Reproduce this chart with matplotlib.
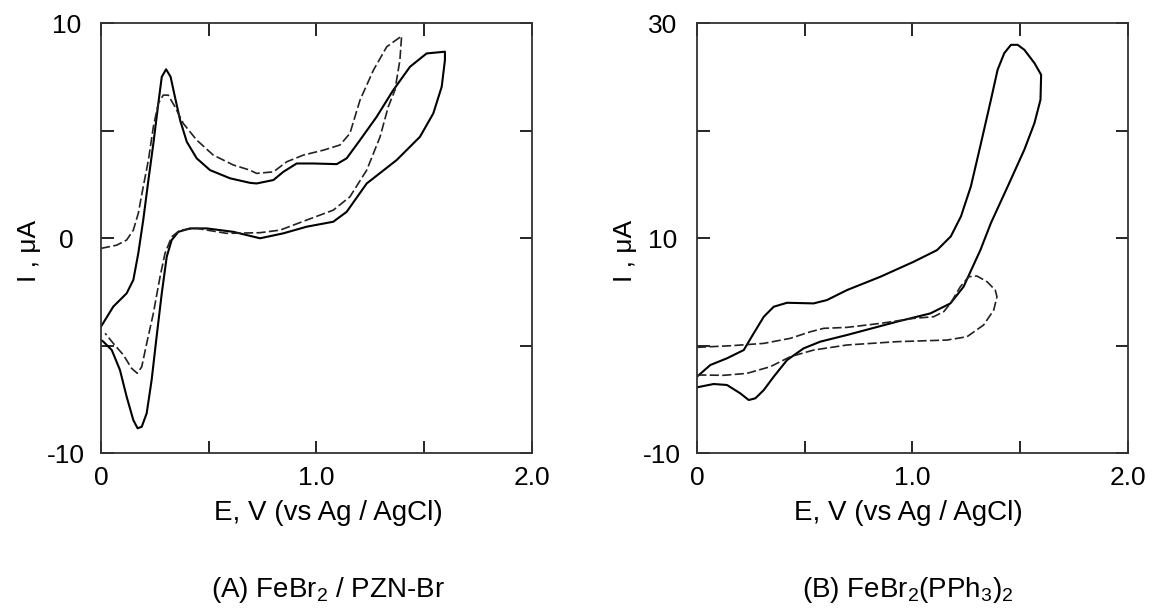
import numpy as np
import matplotlib.pyplot as plt

plt.rcParams['font.family'] = ['Liberation Sans', 'DejaVu Sans']
plt.rcParams['mathtext.fontset'] = 'custom'
plt.rcParams['mathtext.rm'] = 'Liberation Sans'
plt.rcParams['mathtext.it'] = 'Liberation Sans'

# (A) FeBr2 / PZN-Br  -- solid: forward scan then reverse scan
a_solid_E = [0.0, 0.057, 0.119, 0.15, 0.173, 0.196, 0.22, 0.243, 0.266, 0.282, 0.302, 0.323, 0.343,
             0.367, 0.398, 0.444, 0.506, 0.599, 0.691, 0.722, 0.80, 0.846, 0.908, 0.985, 1.094,
             1.14, 1.202, 1.279, 1.356, 1.434, 1.511, 1.596,
             1.596, 1.581, 1.542, 1.48, 1.372, 1.233, 1.14, 1.078, 0.955, 0.846, 0.738, 0.614,
             0.49, 0.413, 0.359, 0.328, 0.305, 0.282, 0.258, 0.235, 0.212, 0.189, 0.17, 0.15,
             0.119, 0.088, 0.05, 0.011, 0.0]
a_solid_I = [-4.12, -3.19, -2.57, -1.95, -0.71, 0.84, 2.70, 4.40, 6.27, 7.50, 7.85, 7.50, 6.57,
             5.49, 4.48, 3.71, 3.16, 2.78, 2.57, 2.54, 2.70, 3.08, 3.47, 3.47, 3.44,
             3.71, 4.56, 5.64, 6.88, 7.97, 8.59, 8.67,
             8.28, 7.04, 5.80, 4.71, 3.63, 2.54, 1.22, 0.76, 0.53, 0.22, -0.01, 0.29,
             0.45, 0.45, 0.29, -0.09, -0.87, -2.57, -4.59, -6.60, -8.15, -8.78, -8.85, -8.47,
             -7.38, -6.14, -5.21, -4.82, -4.74]

a_dash_E = [0.0, 0.073, 0.119, 0.15, 0.173, 0.196, 0.22, 0.243, 0.266, 0.289, 0.312, 0.343, 0.382,
            0.444, 0.521, 0.614, 0.691, 0.722, 0.80, 0.862, 0.939, 1.032, 1.109, 1.155, 1.202,
            1.264, 1.326, 1.395,
            1.387, 1.364, 1.333, 1.295, 1.233, 1.155, 1.078, 0.955, 0.831, 0.738, 0.583, 0.444,
            0.367, 0.328, 0.297, 0.274, 0.243, 0.212, 0.189, 0.168, 0.142, 0.104, 0.057, 0.019]
a_dash_I = [-0.48, -0.33, -0.09, 0.37, 1.15, 2.39, 3.63, 5.18, 6.27, 6.65, 6.65, 6.11, 5.33,
            4.56, 3.86, 3.40, 3.16, 3.01, 3.08, 3.55, 3.86, 4.09, 4.33, 4.87, 6.42,
            7.81, 8.90, 9.40,
            8.28, 6.88, 6.11, 4.71, 3.16, 1.92, 1.30, 0.84, 0.37, 0.25, 0.22, 0.45,
            0.37, 0.06, -0.71, -1.80, -3.50, -4.90, -5.99, -6.29, -6.06, -5.44, -4.90, -4.43]

# (B) FeBr2(PPh3)2
b_solid_E = [0.0, 0.062, 0.139, 0.217, 0.263, 0.31, 0.356, 0.418, 0.541, 0.603, 0.696, 0.851, 1.006,
             1.114, 1.178, 1.225, 1.271, 1.318, 1.364, 1.395, 1.426, 1.457, 1.488, 1.519, 1.566,
             1.597,
             1.594, 1.566, 1.519, 1.442, 1.364, 1.315, 1.237, 1.176, 1.083, 0.928, 0.696, 0.572,
             0.495, 0.418, 0.356, 0.31, 0.271, 0.24, 0.201, 0.139, 0.077, 0.0]
b_solid_I = [-2.90, -1.81, -1.19, -0.42, 1.13, 2.68, 3.61, 3.98, 3.92, 4.23, 5.16, 6.40, 7.80,
             8.88, 10.16, 12.02, 14.81, 18.84, 22.87, 25.66, 27.21, 27.98, 27.98, 27.52, 26.28,
             25.19,
             22.87, 20.70, 18.22, 14.81, 11.40, 8.88, 5.47, 3.92, 2.99, 2.22, 0.98, 0.36,
             -0.26, -1.35, -2.90, -4.14, -4.91, -5.07, -4.45, -3.67, -3.58, -3.89]

b_dash_E = [0.0, 0.155, 0.31, 0.433, 0.526, 0.588, 0.696, 0.851, 1.006, 1.098, 1.145, 1.176, 1.222,
            1.261, 1.299, 1.346, 1.384, 1.392, 1.377, 1.33, 1.253, 1.16, 0.928, 0.696, 0.541,
            0.433, 0.34, 0.232, 0.124, 0.0]
b_dash_I = [-0.17, -0.02, 0.20, 0.67, 1.28, 1.60, 1.69, 2.06, 2.53, 2.68, 3.15, 3.92, 5.47,
            6.40, 6.47, 5.94, 5.16, 4.54, 3.30, 1.91, 0.82, 0.51, 0.36, 0.05, -0.42,
            -1.04, -1.97, -2.59, -2.77, -2.74]

fig = plt.figure(figsize=(11.53, 6.15), dpi=100)
axA = fig.add_axes([0.0876, 0.2634, 0.3738, 0.699])
axB = fig.add_axes([0.6045, 0.2634, 0.3738, 0.699])

dash = (0, (5.5, 2.0))

axA.plot(a_solid_E, a_solid_I, color="black", lw=1.5, solid_joinstyle="round")
axA.plot(a_dash_E, a_dash_I, color="#222222", lw=1.2, linestyle=dash)
axB.plot(b_solid_E, b_solid_I, color="black", lw=1.5, solid_joinstyle="round")
axB.plot(b_dash_E, b_dash_I, color="#222222", lw=1.2, linestyle=dash)


def style(ax, ylim, yticks, ylabels, xlab_x):
    ax.set_xlim(0, 2.0)
    ax.set_ylim(*ylim)
    ax.set_xticks([0, 0.5, 1.0, 1.5, 2.0])
    ax.set_xticklabels(["0", "", "1.0", "", "2.0"])
    ax.set_yticks(yticks)
    ax.set_yticklabels(ylabels, ha="center")
    ax.tick_params(direction="in", length=9, width=1.2, top=True, right=True,
                   labelsize=19, colors="black")
    ax.tick_params(axis="x", pad=9)
    ax.tick_params(axis="y", pad=25)
    for s in ax.spines.values():
        s.set_linewidth(1.3)
        s.set_color("#333333")
    ax.set_xlabel("E, V (vs Ag / AgCl)", fontsize=20)
    ax.xaxis.set_label_coords(xlab_x, -0.109)
    ax.set_ylabel("I , μA", fontsize=19)
    ax.yaxis.set_label_coords(-0.14, 0.47)


style(axA, (-10, 10), [-10, -5, 0, 5, 10], ["-10", "", "0", "", "10"], 0.527)
style(axB, (-10, 30), [-10, 0, 10, 20, 30], ["-10", "", "10", "", "30"], 0.49)

fig.text(0.2845, 0.029, "(A) FeBr$_2$ / PZN-Br", ha="center", va="baseline", fontsize=20)
fig.text(0.7875, 0.029, "(B) FeBr$_2$(PPh$_3$)$_2$", ha="center", va="baseline", fontsize=20)

fig.savefig("out.png", dpi=100)
